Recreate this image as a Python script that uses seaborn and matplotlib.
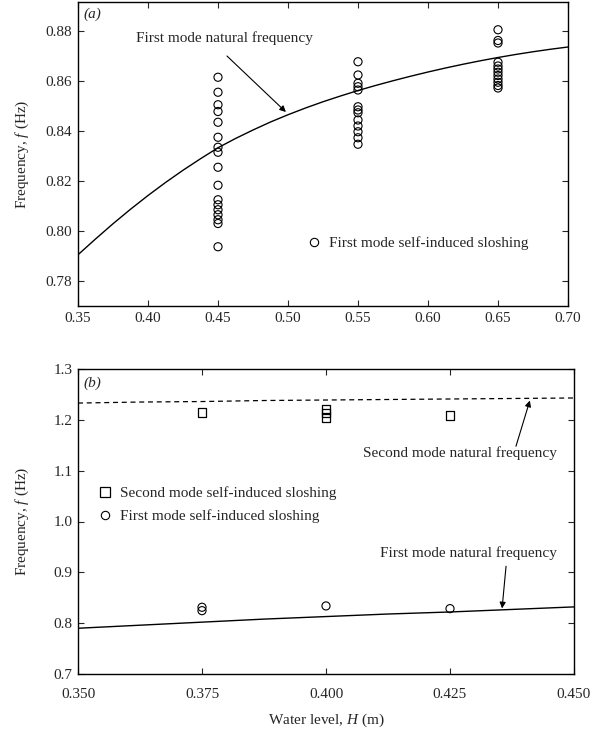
import numpy as np
import pandas as pd
import matplotlib
matplotlib.use("Agg")
import matplotlib.pyplot as plt
import seaborn as sns
from matplotlib.lines import Line2D

# ---------------- data: panel (a) ----------------
a_line_h = [0.35, 0.3625, 0.375, 0.3875, 0.40, 0.4125, 0.425, 0.4375, 0.45, 0.4625,
            0.475, 0.4875, 0.50, 0.5125, 0.525, 0.5375, 0.55, 0.5625, 0.575, 0.5875,
            0.60, 0.6125, 0.625, 0.6375, 0.65, 0.6625, 0.675, 0.6875, 0.70]
a_line_f = [0.7905, 0.7968, 0.8029, 0.8087, 0.8142, 0.8194, 0.8243, 0.8289, 0.8333, 0.8370,
            0.8404, 0.8436, 0.8465, 0.8492, 0.8517, 0.8540, 0.8562, 0.8582, 0.8601, 0.8619,
            0.8636, 0.8652, 0.8667, 0.8681, 0.8694, 0.8706, 0.8717, 0.8727, 0.8736]

a_h045 = [0.8615, 0.8555, 0.8505, 0.8478, 0.8435, 0.8375, 0.8335, 0.8315, 0.8255, 0.8183,
          0.8125, 0.8105, 0.8085, 0.8065, 0.8045, 0.8030, 0.7937]
a_h055 = [0.8677, 0.8624, 0.8591, 0.8577, 0.8564, 0.8497, 0.8484, 0.8473, 0.8444, 0.8420,
          0.8397, 0.8373, 0.8347]
a_h065 = [0.8805, 0.8762, 0.8752, 0.8675, 0.8660, 0.8648, 0.8635, 0.8622, 0.8608, 0.8595,
          0.8582, 0.8572]

a_xticks = [0.35, 0.40, 0.45, 0.50, 0.55, 0.60, 0.65, 0.70]
a_yticks = [0.78, 0.80, 0.82, 0.84, 0.86, 0.88]

# ---------------- data: panel (b) ----------------
b_line_h = [0.35, 0.3625, 0.375, 0.3875, 0.40, 0.4125, 0.425, 0.4375, 0.45]
b_first_f = [0.790, 0.796, 0.802, 0.808, 0.813, 0.818, 0.822, 0.827, 0.832]
b_second_f = [1.233, 1.235, 1.236, 1.238, 1.239, 1.240, 1.241, 1.242, 1.243]

b_sq_h = [0.375, 0.400, 0.400, 0.400, 0.425]
b_sq_f = [1.2144, 1.2210, 1.2134, 1.2045, 1.2085]
b_ci_h = [0.375, 0.375, 0.400, 0.425]
b_ci_f = [0.8313, 0.8246, 0.8339, 0.8286]

b_xticks = [0.350, 0.375, 0.400, 0.425, 0.450]
b_yticks = [0.7, 0.8, 0.9, 1.0, 1.1, 1.2, 1.3]

# ---------------- style ----------------
sns.set_style("ticks")
plt.rcParams['font.family'] = ['Liberation Serif', 'DejaVu Serif']
plt.rcParams['mathtext.fontset'] = 'custom'
plt.rcParams['mathtext.it'] = 'Liberation Serif:italic'
plt.rcParams['mathtext.rm'] = 'Liberation Serif'
FS = 11

fig = plt.figure(figsize=(5.96, 7.40), dpi=100)
W, H = 596, 740

def ax_rect(l, r, t, b):
    return [l / W, 1 - b / H, (r - l) / W, (b - t) / H]

axa = fig.add_axes(ax_rect(78, 568, 2, 306))
axb = fig.add_axes(ax_rect(78, 574, 369, 674))

# ---------------- panel (a) ----------------
df_a_line = pd.DataFrame({"H": a_line_h, "f": a_line_f})
sns.lineplot(data=df_a_line, x="H", y="f", ax=axa, color="black", lw=1.0)

pts_h = [0.45] * len(a_h045) + [0.55] * len(a_h055) + [0.65] * len(a_h065)
pts_f = a_h045 + a_h055 + a_h065
df_a_pts = pd.DataFrame({"H": pts_h, "f": pts_f})
sns.scatterplot(data=df_a_pts, x="H", y="f", ax=axa, marker="o", s=34,
                facecolor="none", edgecolor="black", linewidth=0.8, zorder=3)

axa.set_xlim(0.35, 0.70)
axa.set_ylim(0.770, 0.8916)
axa.set_xticks(a_xticks)
axa.set_xticklabels([f"{v:.2f}" for v in a_xticks])
axa.set_yticks(a_yticks)
axa.set_yticklabels([f"{v:.2f}" for v in a_yticks])
axa.set_xlabel("")
axa.set_ylabel("Frequency, $f$ (Hz)", fontsize=FS)

axa.text(0.012, 0.96, "(a)", transform=axa.transAxes, fontsize=FS,
         style="italic", ha="left", va="center")
axa.text(0.4543, 0.8772, "First mode natural frequency", fontsize=FS,
         ha="center", va="center")
axa.annotate("", xy=(0.4985, 0.8476), xytext=(0.4564, 0.8700),
             arrowprops=dict(arrowstyle="-|>", color="black", lw=0.8,
                             mutation_scale=9, shrinkA=0, shrinkB=0))

h_circ = Line2D([], [], linestyle="none", marker="o", markersize=6,
                markerfacecolor="none", markeredgecolor="black", markeredgewidth=0.8)
axa.legend([h_circ], ["First mode self-induced sloshing"], loc="center left",
           bbox_to_anchor=(0.466, 0.207), frameon=False, fontsize=FS,
           handlelength=1.0, handletextpad=0.5, borderpad=0, borderaxespad=0)

# ---------------- panel (b) ----------------
df_b_line = pd.DataFrame({"H": b_line_h, "first": b_first_f, "second": b_second_f})
sns.lineplot(data=df_b_line, x="H", y="first", ax=axb, color="black", lw=1.0)
sns.lineplot(data=df_b_line, x="H", y="second", ax=axb, color="black", lw=0.9,
             linestyle=(0, (4, 3)))

df_b_sq = pd.DataFrame({"H": b_sq_h, "f": b_sq_f})
sns.scatterplot(data=df_b_sq, x="H", y="f", ax=axb, marker="s", s=40,
                facecolor="none", edgecolor="black", linewidth=0.9, zorder=3)
df_b_ci = pd.DataFrame({"H": b_ci_h, "f": b_ci_f})
sns.scatterplot(data=df_b_ci, x="H", y="f", ax=axb, marker="o", s=34,
                facecolor="none", edgecolor="black", linewidth=0.8, zorder=3)

axb.set_xlim(0.35, 0.45)
axb.set_ylim(0.7, 1.3)
axb.set_xticks(b_xticks)
axb.set_xticklabels([f"{v:.3f}" for v in b_xticks])
axb.set_yticks(b_yticks)
axb.set_yticklabels([f"{v:.1f}" for v in b_yticks])
axb.set_xlabel("Water level, $H$ (m)", fontsize=FS)
axb.set_ylabel("Frequency, $f$ (Hz)", fontsize=FS)

axb.text(0.012, 0.954, "(b)", transform=axb.transAxes, fontsize=FS,
         style="italic", ha="left", va="center")
axb.text(0.427, 1.135, "Second mode natural frequency", fontsize=FS,
         ha="center", va="center")
axb.annotate("", xy=(0.4411, 1.238), xytext=(0.4383, 1.148),
             arrowprops=dict(arrowstyle="-|>", color="black", lw=0.8,
                             mutation_scale=9, shrinkA=0, shrinkB=0))
axb.text(0.4288, 0.938, "First mode natural frequency", fontsize=FS,
         ha="center", va="center")
axb.annotate("", xy=(0.4355, 0.829), xytext=(0.4363, 0.912),
             arrowprops=dict(arrowstyle="-|>", color="black", lw=0.8,
                             mutation_scale=9, shrinkA=0, shrinkB=0))

h_sq = Line2D([], [], linestyle="none", marker="s", markersize=6.5,
              markerfacecolor="none", markeredgecolor="black", markeredgewidth=0.9)
axb.legend([h_sq, h_circ], ["Second mode self-induced sloshing",
                            "First mode self-induced sloshing"],
           loc="center left", bbox_to_anchor=(0.039, 0.554), frameon=False,
           fontsize=FS, handlelength=1.0, handletextpad=0.5, borderpad=0,
           borderaxespad=0, labelspacing=0.6)

for ax in (axa, axb):
    ax.tick_params(direction="in", length=4, width=0.8, top=True, right=True,
                   labelsize=FS, pad=4)
    for sp in ax.spines.values():
        sp.set_linewidth(1.0)
        sp.set_color("black")
        sp.set_visible(True)
    ax.yaxis.set_label_coords(-0.095, 0.5)

axb.tick_params(axis="x", pad=10)
axb.xaxis.labelpad = 8

fig.savefig("out.png", dpi=100)
